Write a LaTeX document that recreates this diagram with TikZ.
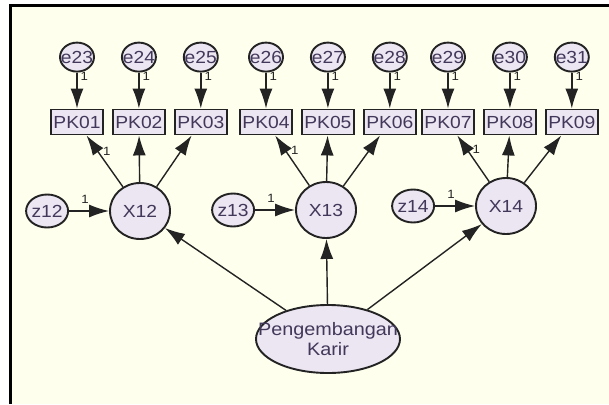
\documentclass[tikz,border=0pt]{standalone}
\usepackage{fontspec}
\setmainfont[FakeStretch=1.1]{Liberation Sans}
\usetikzlibrary{positioning,shapes.geometric,arrows.meta}

\definecolor{cream}{RGB}{255,255,238}
\definecolor{lilac}{RGB}{236,229,242}
\definecolor{ink}{RGB}{66,56,90}
\definecolor{edgegray}{RGB}{35,35,35}

\begin{document}
\begin{tikzpicture}[
    x=1pt, y=-1pt,
    every node/.style={font=\fontsize{17.5}{19}\selectfont, text=ink},
    tight/.style={
        execute at begin node={\hbox to 0pt\bgroup\hss},
        execute at end node={\hss\egroup}},
    ind/.style={
        rectangle,
        draw=edgegray,
        line width=1.9pt,
        fill=lilac,
        minimum width=52pt,
        minimum height=25pt,
        inner sep=0pt},
    lat/.style={
        ellipse,
        tight,
        draw=edgegray,
        line width=1.9pt,
        fill=lilac,
        inner sep=0pt},
    err/.style={lat, minimum width=34pt, minimum height=29pt},
    dist/.style={lat, minimum width=42pt, minimum height=33pt},
    fac/.style={lat, minimum width=60pt, minimum height=56pt},
    pil/.style={
        draw=edgegray,
        line width=1.4pt,
        arrows={-Latex[length=20pt,width=13pt]}},
    one/.style={
        font=\fontsize{12}{13}\selectfont,
        text=edgegray,
        inner sep=1pt}
]

% page and frame
\useasboundingbox (0,0) rectangle (609,404);
\fill[white] (0,0) rectangle (609,404);
\fill[cream] (10,6) rectangle (609,404);
\draw[line width=3pt, black] (10,404) -- (10,6) -- (609,6);

% indicators
\node[ind] (PK01) at (77,122) {PK01};
\node[ind,right=8pt of PK01] (PK02) {PK02};
\node[ind,right=8pt of PK02] (PK03) {PK03};
\node[ind] (PK04) at (266,122) {PK04};
\node[ind,right=8pt of PK04] (PK05) {PK05};
\node[ind,right=8pt of PK05] (PK06) {PK06};
\node[ind] (PK07) at (448,122) {PK07};
\node[ind,right=8pt of PK07] (PK08) {PK08};
\node[ind,right=8pt of PK08] (PK09) {PK09};

% errors
\node[err,above=36pt of PK01] (e23) {e23};
\node[err,above=36pt of PK02] (e24) {e24};
\node[err,above=36pt of PK03] (e25) {e25};
\node[err,above=36pt of PK04] (e26) {e26};
\node[err,above=36pt of PK05] (e27) {e27};
\node[err,above=36pt of PK06] (e28) {e28};
\node[err,above=36pt of PK07] (e29) {e29};
\node[err,above=36pt of PK08] (e30) {e30};
\node[err,above=36pt of PK09] (e31) {e31};

% first order factors
\node[fac] (X12) at (140,211) {X12};
\node[fac] (X13) at (326,210) {X13};
\node[fac] (X14) at (506,206) {X14};

\node[dist,left=40pt of X12] (z12) {z12};
\node[dist,left=40pt of X13] (z13) {z13};
\node[dist,left=40pt of X14] (z14) {z14};

% second order factor
\node[ellipse,draw=edgegray,line width=1.9pt,fill=lilac,inner sep=0pt,
      minimum width=144pt,minimum height=68pt,align=center,
      font=\fontsize{18}{20}\selectfont] (peng) at (328,339)
      {\makebox[0pt]{Pengembangan}\\\makebox[0pt]{Karir}};

% error paths
\draw[pil] (e23) -- node[one,right=2pt,pos=.12] {1} (PK01);
\draw[pil] (e24) -- node[one,right=2pt,pos=.12] {1} (PK02);
\draw[pil] (e25) -- node[one,right=2pt,pos=.12] {1} (PK03);
\draw[pil] (e26) -- node[one,right=2pt,pos=.12] {1} (PK04);
\draw[pil] (e27) -- node[one,right=2pt,pos=.12] {1} (PK05);
\draw[pil] (e28) -- node[one,right=2pt,pos=.12] {1} (PK06);
\draw[pil] (e29) -- node[one,right=2pt,pos=.12] {1} (PK07);
\draw[pil] (e30) -- node[one,right=2pt,pos=.12] {1} (PK08);
\draw[pil] (e31) -- node[one,right=2pt,pos=.12] {1} (PK09);

% loadings
\draw[pil] (X12) -- node[one,right=4pt,pos=.7] {1} (PK01);
\draw[pil] (X12) -- (PK02);
\draw[pil] (X12) -- (PK03);
\draw[pil] (X13) -- node[one,right=4pt,pos=.7] {1} (PK04);
\draw[pil] (X13) -- (PK05);
\draw[pil] (X13) -- (PK06);
\draw[pil] (X14) -- node[one,right=4pt,pos=.7] {1} (PK07);
\draw[pil] (X14) -- (PK08);
\draw[pil] (X14) -- (PK09);

% disturbances
\draw[pil] (z12) -- node[one,above=6pt,pos=.4] {1} (X12);
\draw[pil] (z13) -- node[one,above=6pt,pos=.4] {1} (X13);
\draw[pil] (z14) -- node[one,above=6pt,pos=.4] {1} (X14);

% structural paths
\draw[pil] (peng) -- (X12);
\draw[pil] (peng) -- (X13);
\draw[pil] (peng) -- (X14);

\end{tikzpicture}
\end{document}
